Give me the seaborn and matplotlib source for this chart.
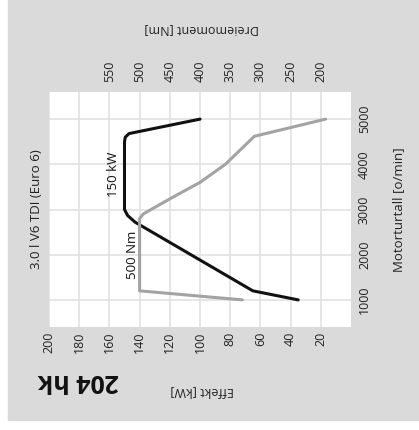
import matplotlib
matplotlib.use("Agg")
import matplotlib.pyplot as plt
import pandas as pd
import seaborn as sns
from matplotlib.patches import Rectangle

# power curve (kW vs rpm) and torque curve (Nm vs rpm)
power_rpm = [1000, 1200, 2720, 2870, 3000, 4500, 4600, 4680, 5000]
power_kw = [35, 65, 143, 148, 150, 150, 149.5, 147, 100]
torque_rpm = [1000, 1200, 2800, 2900, 3000, 3250, 3600, 4000, 4620, 5000]
torque_nm = [330, 500, 500, 494, 481, 448, 400, 358, 310, 192]

kw_ticks = [200, 180, 160, 140, 120, 100, 80, 60, 40, 20]
nm_ticks = [550, 500, 450, 400, 350, 300, 250, 200]
rpm_ticks = [1000, 2000, 3000, 4000, 5000]

df_p = pd.DataFrame({"kw": power_kw, "rpm": power_rpm})
df_t = pd.DataFrame({"nm": torque_nm, "rpm": torque_rpm})

sns.set_theme(style="white")
plt.rcParams["font.family"] = ["Open Sans", "DejaVu Sans"]

W, H = 419, 430
fig = plt.figure(figsize=(W / 100, H / 100), dpi=100, facecolor="white")
fig.patches.append(Rectangle((8 / W, 10 / H), 1 - 8 / W, 1 - 10 / H,
                             transform=fig.transFigure, color="#dadada", zorder=-10))

ax = fig.add_axes([49 / W, (H - 327) / H, 302 / W, 235 / H])
ax.set_facecolor("white")
ax2 = ax.twiny()

sns.lineplot(data=df_p, x="kw", y="rpm", ax=ax, sort=False, orient="y",
             color="#111111", lw=2.2, zorder=3)
sns.lineplot(data=df_t, x="nm", y="rpm", ax=ax2, sort=False, orient="y",
             color="#a3a3a3", lw=2.2, zorder=2)

ax.set_xlim(200, 0)
ax2.set_xlim(650, 150)
ax.set_ylim(400, 5600)

ax.set_xticks(kw_ticks)
ax.set_xticklabels([str(v) for v in kw_ticks])
ax2.set_xticks(nm_ticks)
ax2.set_xticklabels([str(v) for v in nm_ticks])
ax.set_yticks(rpm_ticks)
ax.set_yticklabels([str(v) for v in rpm_ticks])
ax.yaxis.tick_right()
ax.yaxis.set_label_position("right")

ax.tick_params(axis="x", length=0, pad=3.5, labelsize=9, labelrotation=90, colors="#222222")
ax2.tick_params(axis="x", length=0, pad=7, labelsize=9, labelrotation=90, colors="#222222")
ax.tick_params(axis="y", length=0, pad=5, labelsize=9, labelrotation=90, colors="#222222")
for lab in ax.get_yticklabels():
    lab.set_va("center")

ax.grid(True, color="#e2e2e2", lw=1.2)
ax2.grid(False)
for a in (ax, ax2):
    for s in a.spines.values():
        s.set_visible(False)

ax.set_xlabel("Effekt [kW]", rotation=180, fontsize=9, color="#222222")
ax.xaxis.set_label_coords(0.506, -0.247)
ax2.set_xlabel("Dreiemoment [Nm]", rotation=180, fontsize=9, color="#222222")
ax2.xaxis.set_label_coords(0.506, 1.251)
ax.set_ylabel("Motorturtall [o/min]", rotation=90, fontsize=9.5, color="#222222")
ax.yaxis.set_label_coords(1.136, 0.5)

ax.text(157.5, 3770, "150 kW", rotation=90, ha="center", va="center",
        fontsize=9.5, color="#111111")
ax.text(145, 1990, "500 Nm", rotation=90, ha="center", va="center",
        fontsize=9.5, color="#111111")

fig.text(37 / W, 1 - 209 / H, "3.0 l V6 TDI (Euro 6)", rotation=90,
         ha="center", va="center", fontsize=9.5, color="#222222")
fig.text(78 / W, 1 - 380 / H, "204 hk", rotation=180, ha="center", va="center",
         fontsize=18, fontweight="bold", color="#111111")

fig.savefig("out.png", dpi=100, facecolor="white")
